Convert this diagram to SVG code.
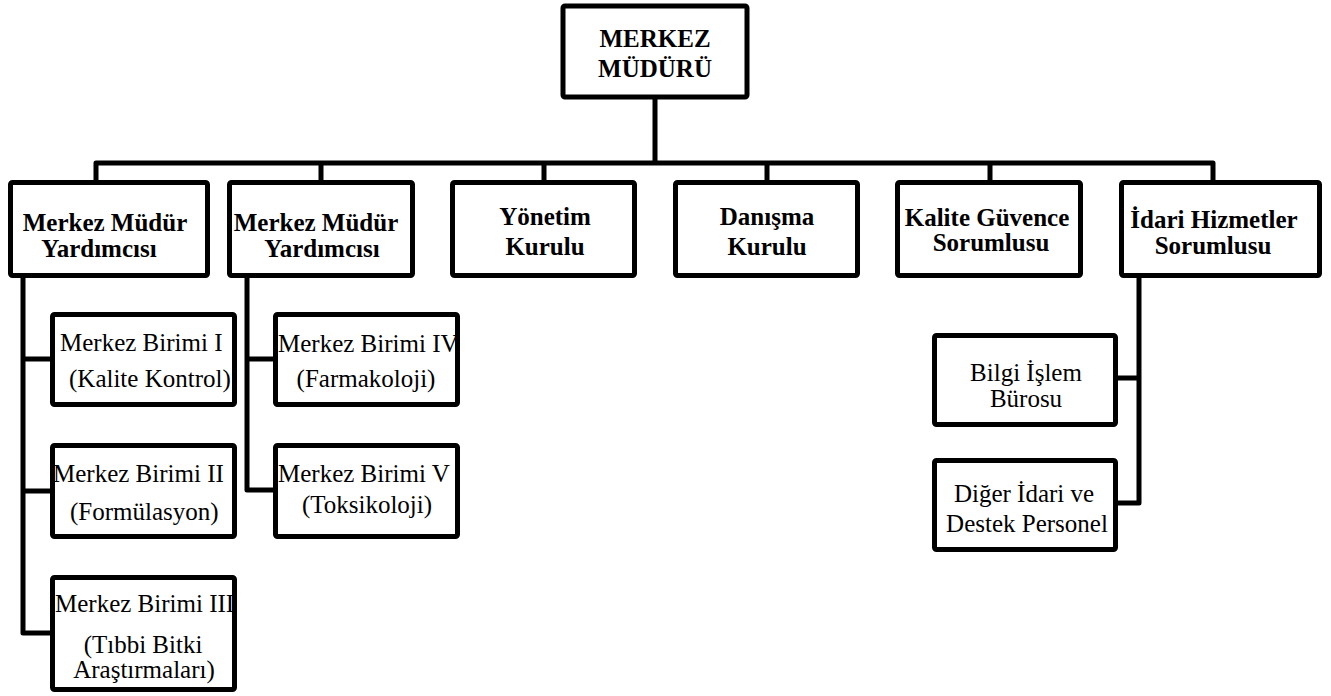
<svg xmlns="http://www.w3.org/2000/svg" width="1331" height="696" viewBox="0 0 1331 696">
<style>
.box{fill:#fff;stroke:#000;stroke-width:5;stroke-linejoin:round}
.ln{fill:none;stroke:#000;stroke-width:5;stroke-linejoin:round;stroke-linecap:square}
.b{font-family:'Liberation Serif',serif;font-weight:bold;font-size:25px;fill:#000}
.r{font-family:'Liberation Serif',serif;font-size:25px;fill:#000}
.c{text-anchor:middle}
</style>
<rect width="1331" height="696" fill="#fff"/>
<g id="connectors">
<path class="ln" d="M655 97V163M96 182V163H1213V182M321 163V182M544 163V182M767 163V182M990 163V182"/>
<path class="ln" d="M23 278V633H52M23 359H52M23 491H52"/>
<path class="ln" d="M247 278V490H275M247 359H275"/>
<path class="ln" d="M1139 278V503H1116M1139 378H1116"/>
</g>
<g id="merkez-muduru">
<rect class="box" x="563" y="6" width="184" height="91" rx="2"/>
<text class="b c" x="655" y="47">MERKEZ</text>
<text class="b c" x="655" y="77">MÜDÜRÜ</text>
</g>
<g id="yardimci-1">
<rect class="box" x="10.5" y="182.5" width="197" height="93" rx="2"/>
<text class="b c" x="105" y="231">Merkez Müdür</text>
<text class="b c" x="99" y="257">Yardımcısı</text>
</g>
<g id="yardimci-2">
<rect class="box" x="229.5" y="182.5" width="183" height="93" rx="2"/>
<text class="b c" x="316" y="231">Merkez Müdür</text>
<text class="b c" x="322" y="257">Yardımcısı</text>
</g>
<g id="yonetim">
<rect class="box" x="452.5" y="182.5" width="182" height="93" rx="2"/>
<text class="b c" x="545" y="225">Yönetim</text>
<text class="b c" x="545" y="255">Kurulu</text>
</g>
<g id="danisma">
<rect class="box" x="675.5" y="182.5" width="182" height="93" rx="2"/>
<text class="b c" x="767" y="225">Danışma</text>
<text class="b c" x="767" y="255">Kurulu</text>
</g>
<g id="kalite">
<rect class="box" x="897.5" y="182.5" width="183" height="93" rx="2"/>
<text class="b c" x="987" y="226">Kalite Güvence</text>
<text class="b c" x="991" y="251">Sorumlusu</text>
</g>
<g id="idari">
<rect class="box" x="1121.5" y="182.5" width="198" height="93" rx="2"/>
<text class="b c" x="1214" y="228">İdari Hizmetler</text>
<text class="b c" x="1213" y="254">Sorumlusu</text>
</g>
<g id="birim-1">
<rect class="box" x="52.5" y="314.5" width="182" height="90" rx="2"/>
<text class="r" x="60" y="351">Merkez Birimi I</text>
<text class="r" x="69" y="387">(Kalite Kontrol)</text>
</g>
<g id="birim-2">
<rect class="box" x="52.5" y="445.5" width="182" height="91" rx="2"/>
<text class="r" x="53" y="482">Merkez Birimi II</text>
<text class="r" x="70" y="520">(Formülasyon)</text>
</g>
<g id="birim-3">
<rect class="box" x="52.5" y="577.5" width="182" height="112" rx="2"/>
<text class="r" x="55" y="612">Merkez Birimi III</text>
<text class="r c" x="143" y="653">(Tıbbi Bitki</text>
<text class="r c" x="144" y="678">Araştırmaları)</text>
</g>
<g id="birim-4">
<rect class="box" x="275.5" y="314.5" width="182" height="90" rx="2"/>
<text class="r" x="278" y="352">Merkez Birimi IV</text>
<text class="r c" x="366" y="387">(Farmakoloji)</text>
</g>
<g id="birim-5">
<rect class="box" x="275.5" y="445.5" width="182" height="91" rx="2"/>
<text class="r" x="278" y="482">Merkez Birimi V</text>
<text class="r c" x="367" y="513">(Toksikoloji)</text>
</g>
<g id="bilgi-islem">
<rect class="box" x="934.5" y="335.5" width="181" height="89" rx="2"/>
<text class="r c" x="1026" y="381">Bilgi İşlem</text>
<text class="r c" x="1026" y="407">Bürosu</text>
</g>
<g id="diger-idari">
<rect class="box" x="934.5" y="460.5" width="181" height="89" rx="2"/>
<text class="r c" x="1024" y="502">Diğer İdari ve</text>
<text class="r c" x="1027" y="532">Destek Personel</text>
</g>
</svg>
